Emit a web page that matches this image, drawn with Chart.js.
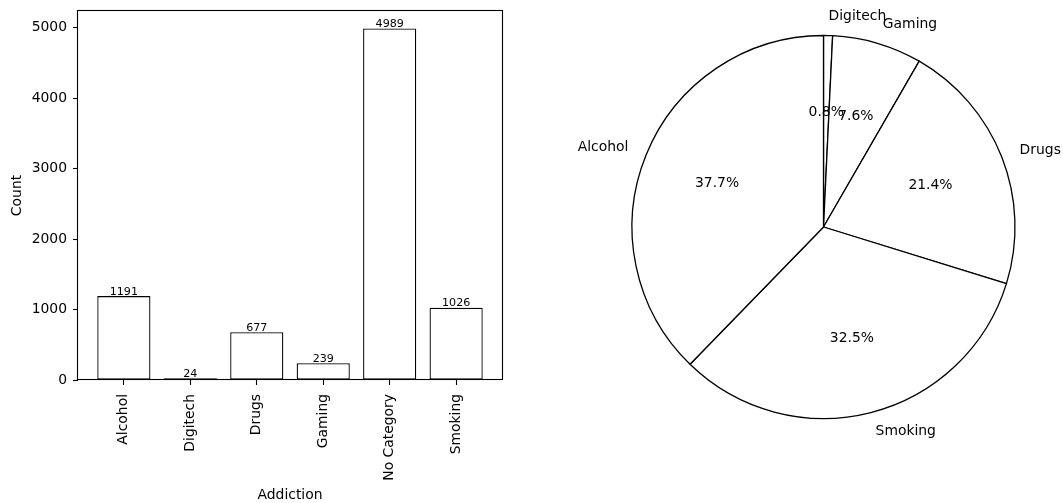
<!DOCTYPE html>
<html>
<head>
<meta charset="utf-8">
<script src="https://cdn.jsdelivr.net/npm/chart.js@4.4.1/dist/chart.umd.min.js"></script>
<style>
  html, body { margin: 0; padding: 0; background: #fff; }
  #wrap { position: relative; width: 1063px; height: 503px; overflow: hidden; background: #fff; }
  #bar { position: absolute; left: 0; top: 0; }
  #pie { position: absolute; left: 560px; top: 0; }
</style>
</head>
<body>
<div id="wrap">
  <canvas id="bar" width="540" height="503"></canvas>
  <canvas id="pie" width="503" height="503"></canvas>
</div>
<script>
// Addiction categories and their counts
const categories = ['Alcohol', 'Digitech', 'Drugs', 'Gaming', 'No Category', 'Smoking'];
const counts = [1191, 24, 677, 239, 4989, 1026];
const countTicks = [0, 1000, 2000, 3000, 4000, 5000];

// Share of each addiction (uncategorised rows left out), clockwise from 12 o'clock
const pieLabels = ['Digitech', 'Gaming', 'Drugs', 'Smoking', 'Alcohol'];
const pieCounts = [24, 239, 677, 1026, 1191];

const FONT = 'DejaVu Sans';
const TEXT = '#000';
Chart.defaults.font.family = FONT;
Chart.defaults.color = TEXT;

// Full box around the plotting area
const frame = {
  id: 'frame',
  afterDatasetsDraw(chart) {
    const { ctx, chartArea: a } = chart;
    const l = Math.round(a.left) - 0.5, t = Math.round(a.top) - 0.5;
    const r = Math.round(a.right) + 0.5, b = Math.round(a.bottom) - 0.5;
    ctx.save();
    ctx.strokeStyle = '#000';
    ctx.lineWidth = 1.1;
    ctx.strokeRect(l, t, r - l, b - t);
    ctx.restore();
  }
};

// Count printed above each bar
const barValues = {
  id: 'barValues',
  afterDatasetsDraw(chart) {
    const { ctx } = chart;
    const meta = chart.getDatasetMeta(0);
    ctx.save();
    ctx.font = '11.1px "' + FONT + '"';
    ctx.fillStyle = TEXT;
    ctx.textAlign = 'center';
    ctx.textBaseline = 'alphabetic';
    meta.data.forEach((bar, i) => {
      ctx.fillText(String(counts[i]), bar.x, bar.y - 1.5);
    });
    ctx.restore();
  }
};

new Chart(document.getElementById('bar'), {
  type: 'bar',
  data: {
    datasets: [{
      data: counts.map((v, i) => ({ x: i, y: v })),
      backgroundColor: '#fff',
      borderColor: '#000',
      borderWidth: 1.3,
      borderSkipped: false,
      categoryPercentage: 0.8,
      barPercentage: 1
    }]
  },
  options: {
    responsive: false,
    animation: false,
    events: [],
    layout: { padding: { left: 0, top: 11, right: 38, bottom: 0 } },
    plugins: { legend: { display: false }, tooltip: { enabled: false } },
    scales: {
      x: {
        type: 'linear',
        min: -0.69,
        max: 5.69,
        offset: false,
        border: { display: false },
        grid: { drawOnChartArea: false, drawTicks: true, tickLength: 5, tickWidth: 1.1, tickColor: '#000', offset: false },
        afterBuildTicks: s => { s.ticks = categories.map((_, i) => ({ value: i })); },
        ticks: {
          autoSkip: false, minRotation: 90, maxRotation: 90, padding: 9,
          font: { size: 13.9 }, color: TEXT,
          callback: v => categories[v]
        },
        title: { display: true, text: 'Addiction', font: { size: 13.9 }, color: TEXT, padding: { top: 0, bottom: -1 } },
        afterFit: s => { s.height = 123; s.paddingLeft = 0; s.paddingRight = 0; }
      },
      y: {
        type: 'linear',
        min: 0,
        max: 5238.45,
        border: { display: false },
        grid: { drawOnChartArea: false, drawTicks: true, tickLength: 5, tickWidth: 1.1, tickColor: '#000' },
        afterBuildTicks: s => { s.ticks = countTicks.map(v => ({ value: v })); },
        ticks: { padding: 6, font: { size: 13.9 }, color: TEXT, callback: v => String(v) },
        title: { display: true, text: 'Count', font: { size: 13.9 }, color: TEXT, padding: { top: 9, bottom: 0 } },
        afterFit: s => { s.width = 78; s.paddingTop = 0; s.paddingBottom = 0; }
      }
    }
  },
  plugins: [frame, barValues]
});

// Category names outside the wedges, percentages inside
const pieText = {
  id: 'pieText',
  afterDatasetsDraw(chart) {
    const { ctx } = chart;
    const meta = chart.getDatasetMeta(0);
    const total = pieCounts.reduce((a, b) => a + b, 0);
    ctx.save();
    ctx.font = '13.9px "' + FONT + '"';
    ctx.fillStyle = TEXT;
    ctx.textBaseline = 'middle';
    meta.data.forEach((arc, i) => {
      const mid = (arc.startAngle + arc.endAngle) / 2;
      const c = Math.cos(mid), s = Math.sin(mid);
      const r = arc.outerRadius;
      const lx = arc.x + 1.1 * r * c;
      const ly = arc.y + 1.1 * r * s;
      ctx.textAlign = c < 0 ? 'right' : 'left';
      ctx.fillText(pieLabels[i], lx, ly);
      ctx.textAlign = 'center';
      ctx.fillText((pieCounts[i] / total * 100).toFixed(1) + '%', arc.x + 0.6 * r * c, arc.y + 0.6 * r * s);
    });
    ctx.restore();
  }
};

new Chart(document.getElementById('pie'), {
  type: 'pie',
  data: {
    labels: pieLabels,
    datasets: [{
      data: pieCounts,
      backgroundColor: '#fff',
      borderColor: '#000',
      borderWidth: 1.3
    }]
  },
  options: {
    responsive: false,
    animation: false,
    events: [],
    radius: 191.5,
    layout: { padding: { left: 24, top: 0, right: 0, bottom: 49 } },
    plugins: { legend: { display: false }, tooltip: { enabled: false } }
  },
  plugins: [pieText]
});
</script>
</body>
</html>
